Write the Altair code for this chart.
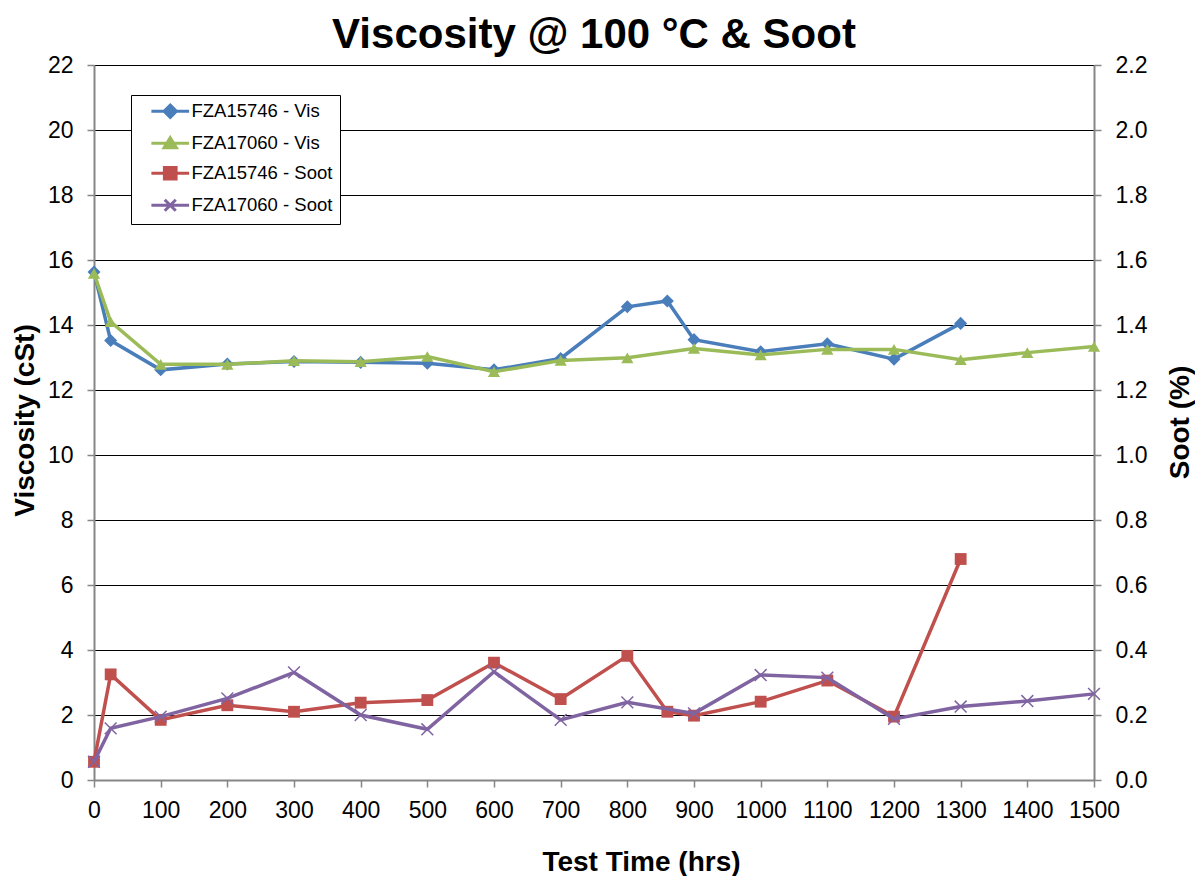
import altair as alt
import pandas as pd

# ---------------- data ----------------
hours_15746 = [0, 25, 100, 200, 300, 400, 500, 600, 700, 800, 860, 900, 1000, 1100, 1200, 1300]
vis_15746 = [15.63, 13.52, 12.62, 12.80, 12.88, 12.85, 12.82, 12.62, 12.97, 14.56, 14.74, 13.55, 13.18, 13.42, 12.95, 14.05]
soot_15746 = [0.056, 0.325, 0.185, 0.230, 0.210, 0.238, 0.246, 0.361, 0.249, 0.382, 0.210, 0.198, 0.241, 0.306, 0.195, 0.680]

hours_17060 = [0, 25, 100, 200, 300, 400, 500, 600, 700, 800, 900, 1000, 1100, 1200, 1300, 1400, 1500]
vis_17060 = [15.59, 14.10, 12.79, 12.79, 12.90, 12.87, 13.03, 12.56, 12.91, 12.99, 13.28, 13.08, 13.25, 13.25, 12.93, 13.15, 13.34]
soot_17060 = [0.056, 0.159, 0.195, 0.251, 0.331, 0.200, 0.156, 0.333, 0.185, 0.239, 0.205, 0.323, 0.315, 0.188, 0.226, 0.243, 0.265]

series_names = ["FZA15746 - Vis", "FZA17060 - Vis", "FZA15746 - Soot", "FZA17060 - Soot"]
series_colors = ["#4A7EBB", "#9BBB59", "#C0504D", "#8064A2"]
x_ticks = list(range(0, 1501, 100))
vis_ticks = list(range(0, 23, 2))
soot_ticks = [0.0, 0.2, 0.4, 0.6, 0.8, 1.0, 1.2, 1.4, 1.6, 1.8, 2.0, 2.2]

# legend symbols: line segment + marker (custom paths)
legend_paths = [
    "M-2.9,0H2.9M0,-0.95L0.95,0L0,0.95L-0.95,0Z",
    "M-2.9,0H2.9M0,-0.85L0.95,0.7L-0.95,0.7Z",
    "M-2.9,0H2.9M-0.9,-0.9H0.9V0.9H-0.9Z",
    "M-2.9,0H2.9M-0.85,-0.85L0.85,0.85M-0.85,0.85L0.85,-0.85",
]

rows = []
for h, v in zip(hours_15746, vis_15746):
    rows.append({"hours": h, "value": v, "series": series_names[0]})
for h, v in zip(hours_17060, vis_17060):
    rows.append({"hours": h, "value": v, "series": series_names[1]})
for h, v in zip(hours_15746, soot_15746):
    rows.append({"hours": h, "value": v, "series": series_names[2]})
for h, v in zip(hours_17060, soot_17060):
    rows.append({"hours": h, "value": v, "series": series_names[3]})
df = pd.DataFrame(rows)

FONT = "Liberation Sans"

x_enc = alt.X(
    "hours:Q",
    scale=alt.Scale(domain=[0, 1500], nice=False),
    axis=alt.Axis(
        values=x_ticks, format="d", title="Test Time (hrs)", grid=False,
        labelOverlap=False, labelFlush=False,
        titleX=547, titleY=82, titleBaseline="middle", titleAlign="center",
        labelPadding=12,
    ),
)
y_vis = alt.Y(
    "value:Q",
    scale=alt.Scale(domain=[0, 22], nice=False, zero=False),
    axis=alt.Axis(
        values=vis_ticks, title="Viscosity (cSt)", grid=True, gridColor="#000000",
        gridWidth=1.2, orient="left", titleAngle=270, titleX=-69, titleY=355,
        titleBaseline="middle", titleAlign="center", labelPadding=14,
        labelOverlap=False,
    ),
)
y_soot = alt.Y(
    "value:Q",
    scale=alt.Scale(domain=[0, 2.2], nice=False, zero=False),
    axis=alt.Axis(
        values=soot_ticks, format=".1f", title="Soot (%)", grid=False, orient="right",
        titleAngle=270, titleX=86, titleY=357, titleBaseline="middle",
        titleAlign="center", labelPadding=14, labelOverlap=False,
    ),
)

base = alt.Chart(df)


def series_layers(i, shape, size, filled, y_enc, stroke_width=1):
    d = base.transform_filter(alt.datum.series == series_names[i])
    line = d.mark_line(color=series_colors[i], strokeWidth=3.5).encode(x=x_enc, y=y_enc)
    pts = d.mark_point(
        shape=shape, size=size, filled=filled, color=series_colors[i],
        opacity=1, strokeWidth=stroke_width,
    ).encode(x=x_enc, y=y_enc)
    return [line, pts]


x_path = "M-1,-1L1,1M-1,1L1,-1"

leg = alt.Legend(
    title=None, orient="none", legendX=37, legendY=30,
    fillColor="white", strokeColor="black", padding=7,
    labelFont=FONT, labelFontSize=18.5, labelColor="black",
    symbolSize=169, symbolStrokeWidth=3, symbolOpacity=1,
    symbolOffset=23, labelOffset=12, rowPadding=7,
)
legend_layer = base.transform_filter(
    alt.datum.series == series_names[1]
).mark_point(filled=True, opacity=0, size=169).encode(
    x=x_enc, y=y_vis,
    fill=alt.Fill("series:N", scale=alt.Scale(domain=series_names, range=series_colors), legend=leg),
    stroke=alt.Stroke("series:N", scale=alt.Scale(domain=series_names, range=series_colors), legend=leg),
    shape=alt.Shape("series:N", scale=alt.Scale(domain=series_names, range=legend_paths), legend=leg),
)

left = alt.layer(
    *series_layers(0, "diamond", 170, True, y_vis),
    *series_layers(1, "triangle-up", 150, True, y_vis),
    legend_layer,
)
right = alt.layer(
    *series_layers(2, "square", 140, True, y_soot),
    *series_layers(3, x_path, 140, False, y_soot, stroke_width=1.5),
)

chart = alt.layer(left, right).resolve_scale(y="independent").properties(
    width=1000,
    height=715,
    title=alt.TitleParams(
        text="Viscosity @ 100 °C & Soot", font=FONT, fontSize=42, fontWeight="bold",
        anchor="middle", color="black", offset=-3,
    ),
    autosize=alt.AutoSizeParams(type="none"),
    padding={"left": 86, "top": 57, "right": 101, "bottom": 96},
).configure_view(stroke=None).configure_axis(
    domainColor="#868686", domainWidth=2, tickColor="#868686", tickWidth=1.5,
    tickSize=7, labelFont=FONT, labelFontSize=23, labelColor="black",
    titleFont=FONT, titleFontSize=28, titleFontWeight="bold", titleColor="black",
)

chart.save("out.html", embed_options={"renderer": "svg", "actions": False})
